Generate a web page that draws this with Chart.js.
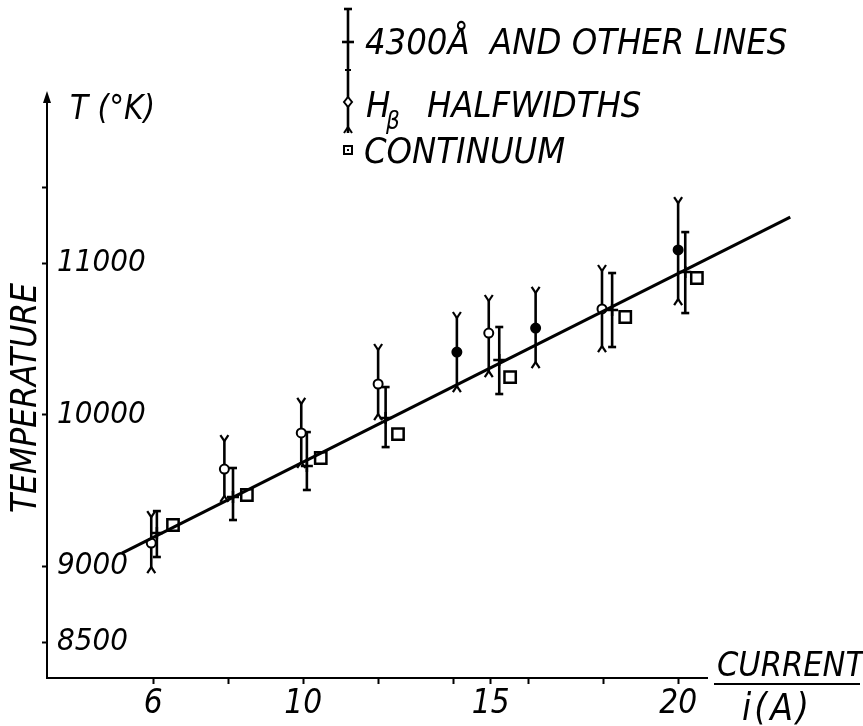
<!DOCTYPE html>
<html><head><meta charset="utf-8">
<script src="https://cdn.jsdelivr.net/npm/chart.js@4.4.1/dist/chart.umd.min.js"></script>
<style>html,body{margin:0;padding:0;background:#fff;}</style>
</head><body>
<canvas id="c" width="863" height="726"></canvas>
<script>
// ---- data ----
const currentHb   = [5.95, 7.9, 9.95, 12.0, 14.1, 14.95, 16.2, 17.97, 20.0];
const tempHb      = [9153, 9641, 9879, 10202, 10413, 10538, 10571, 10697, 11086];
const tempHbLow   = [8955, 9424, 9648, 9964, 10149, 10248, 10307, 10413, 10723];
const tempHbHigh  = [9364, 9865, 10110, 10466, 10677, 10789, 10842, 10987, 11435];
const hbFilled    = [false, false, false, false, true, false, true, false, true];

const currentLines  = [6.1, 8.13, 10.1, 12.2, 15.23, 18.24, 20.19];
const tempLines     = [9219, 9457, 9661, 9978, 10360, 10690, 10941];
const tempLinesLow  = [9061, 9305, 9503, 9786, 10136, 10446, 10670];
const tempLinesHigh = [9364, 9648, 9885, 10182, 10578, 10934, 11204];

const currentCont = [6.53, 8.5, 10.47, 12.53, 15.52, 18.59, 20.5];
const tempCont    = [9272, 9470, 9714, 9872, 10248, 10644, 10901];

const fitCurrent = [5.17, 22.99];
const fitTemp    = [9087, 11303];

const xTicks      = [6, 8, 10, 12, 14, 15, 16, 18, 20];
const xTickLabels = ['6', '', '10', '', '', '15', '', '', '20'];
const yTicks      = [8500, 9000, 10000, 11000, 11500];
const yTickLabels = ['8500', '9000', '10000', '11000', ''];

const FAM = '"Liberation Sans Narrow", "DejaVu Sans Condensed", sans-serif';
const pts = (xs, ys) => xs.map((v, i) => ({x: v, y: ys[i]}));

function seg(ctx, x1, y1, x2, y2) { ctx.beginPath(); ctx.moveTo(x1, y1); ctx.lineTo(x2, y2); ctx.stroke(); }

const decor = {
  id: 'decor',
  beforeDatasetsDraw(chart) {
    const {ctx, scales: {x, y}} = chart;
    ctx.save();
    ctx.strokeStyle = '#000';
    ctx.lineCap = 'butt';
    // H-beta error bars with forked ends
    currentHb.forEach((c, i) => {
      const px = x.getPixelForValue(c);
      const t = y.getPixelForValue(tempHbHigh[i]);
      const b = y.getPixelForValue(tempHbLow[i]);
      ctx.lineWidth = 2.6; seg(ctx, px, t + 5, px, b - 5);
      ctx.lineWidth = 2.2;
      seg(ctx, px, t + 6, px - 4, t); seg(ctx, px, t + 6, px + 4, t);
      seg(ctx, px, b - 6, px - 4, b); seg(ctx, px, b - 6, px + 4, b);
    });
    // 4300 A lines error bars with flat caps
    currentLines.forEach((c, i) => {
      const px = x.getPixelForValue(c);
      const t = y.getPixelForValue(tempLinesHigh[i]);
      const b = y.getPixelForValue(tempLinesLow[i]);
      ctx.lineWidth = 2.6; seg(ctx, px, t, px, b);
      seg(ctx, px - 4, t, px + 4, t); seg(ctx, px - 4, b, px + 4, b);
    });
    ctx.restore();
  },
  afterDraw(chart) {
    const {ctx, chartArea} = chart;
    ctx.save();
    ctx.fillStyle = '#000'; ctx.strokeStyle = '#000';
    // arrow at top of y axis
    const ax = chartArea.left, ay = chartArea.top;
    ctx.beginPath(); ctx.moveTo(ax, ay - 6); ctx.lineTo(ax - 4, ay + 6); ctx.lineTo(ax + 4, ay + 6); ctx.closePath(); ctx.fill();
    // T (°K)
    ctx.font = 'italic 33px ' + FAM;
    ctx.textBaseline = 'alphabetic'; ctx.textAlign = 'left';
    ctx.fillText('T (°K)', 70, 119);
    // y title
    ctx.save();
    ctx.translate(36, 398); ctx.rotate(-Math.PI / 2);
    ctx.textAlign = 'center'; ctx.font = 'italic 35px ' + FAM;
    ctx.fillText('TEMPERATURE', 0, 0);
    ctx.restore();
    // x title as fraction
    ctx.font = 'italic 34px ' + FAM;
    ctx.fillText('CURRENT', 717, 676);
    ctx.lineWidth = 2; seg(ctx, 714, 684, 860, 684);
    ctx.font = 'italic 37px ' + FAM;
    ctx.save(); ctx.letterSpacing = '3px';
    ctx.fillText('i(A)', 742, 720);
    ctx.restore();
    // legend
    const lx = 348;
    ctx.lineWidth = 2.6;
    seg(ctx, lx, 9, lx, 70);
    seg(ctx, lx - 4, 9, lx + 4, 9);
    seg(ctx, lx - 6, 42, lx + 6, 42);
    seg(ctx, lx, 70, lx, 133);
    ctx.lineWidth = 2;
    seg(ctx, lx - 3, 70, lx + 3, 70);
    seg(ctx, lx, 127, lx - 4, 133); seg(ctx, lx, 127, lx + 4, 133);
    ctx.beginPath(); ctx.moveTo(lx, 97); ctx.lineTo(lx + 4, 102); ctx.lineTo(lx, 107); ctx.lineTo(lx - 4, 102); ctx.closePath();
    ctx.fillStyle = '#fff'; ctx.fill(); ctx.stroke(); ctx.fillStyle = '#000';
    ctx.lineWidth = 2; ctx.strokeRect(lx - 4, 146, 8, 8);
    ctx.fillRect(lx - 1, 149, 2, 2);
    ctx.font = 'italic 36px ' + FAM;
    ctx.fillText('4300Å  AND OTHER LINES', 365, 54);
    ctx.fillText('H', 366, 117);
    ctx.font = 'italic 24px ' + FAM;
    ctx.fillText('β', 386, 129);
    ctx.font = 'italic 36px ' + FAM;
    ctx.fillText('HALFWIDTHS', 427, 117);
    ctx.fillText('CONTINUUM', 364, 163);
    ctx.restore();
  }
};

new Chart(document.getElementById('c'), {
  type: 'scatter',
  data: {
    datasets: [
      { type: 'line', data: pts(fitCurrent, fitTemp), borderColor: '#000', borderWidth: 3, pointRadius: 0, clip: false, fill: false },
      { data: pts(currentHb, tempHb), pointStyle: 'circle', pointRadius: 4.5, borderColor: '#000', borderWidth: 2,
        backgroundColor: hbFilled.map(f => f ? '#000' : '#fff') },
      { data: pts(currentLines, tempLines), pointStyle: 'cross', pointRadius: 6, borderColor: '#000', borderWidth: 2.5 },
      { data: pts(currentCont, tempCont), pointStyle: 'rect', pointRadius: 8, borderColor: '#000', borderWidth: 2.5, backgroundColor: '#fff' },
      { data: pts(currentCont, tempCont), pointStyle: 'rect', pointRadius: 1.6, borderColor: '#000', borderWidth: 1, backgroundColor: '#000' }
    ]
  },
  options: {
    responsive: false, animation: false, devicePixelRatio: 1,
    layout: { padding: { top: 97, right: 156, left: 0, bottom: 0 } },
    plugins: { legend: { display: false }, tooltip: { enabled: false } },
    scales: {
      x: {
        type: 'linear', min: 3.17, max: 20.77,
        afterBuildTicks: s => { s.ticks = xTicks.map(v => ({ value: v })); },
        afterFit: s => { s.height = 48; },
        ticks: { callback: (v, i) => xTickLabels[i], color: '#000', padding: 1, maxRotation: 0, autoSkip: false,
                 font: { family: FAM, size: 33, style: 'italic' } },
        grid: { drawOnChartArea: false, tickLength: 6, color: '#000', tickWidth: 2 },
        border: { color: '#000', width: 2 }
      },
      y: {
        type: 'linear', min: 8263, max: 12095,
        afterBuildTicks: s => { s.ticks = yTicks.map(v => ({ value: v })); },
        afterFit: s => { s.width = 47; },
        ticks: { mirror: true, padding: 10, callback: (v, i) => yTickLabels[i], color: '#000', autoSkip: false,
                 font: { family: FAM, size: 31, style: 'italic' } },
        grid: { drawOnChartArea: false, tickLength: 5, color: '#000', tickWidth: 2 },
        border: { color: '#000', width: 2 }
      }
    }
  },
  plugins: [decor]
});
</script>
</body></html>
